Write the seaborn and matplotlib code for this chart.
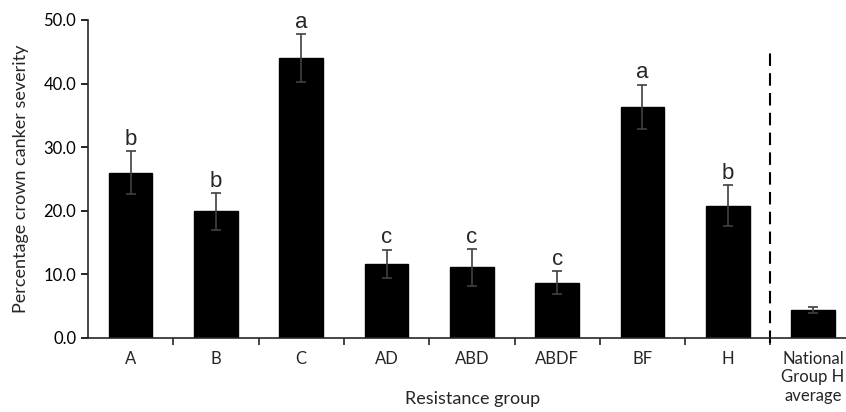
import numpy as np
import pandas as pd
import matplotlib
matplotlib.use("Agg")
import matplotlib.pyplot as plt
import seaborn as sns
from matplotlib.ticker import FormatStrFormatter, FixedLocator

# datos
grupos = ["A", "B", "C", "AD", "ABD", "ABDF", "BF", "H", "National\nGroup H\naverage"]
severidad = [26.0, 19.9, 44.0, 11.7, 11.1, 8.7, 36.3, 20.8, 4.4]
error = [3.4, 2.9, 3.8, 2.2, 2.9, 1.8, 3.5, 3.2, 0.45]
letras = ["b", "b", "a", "c", "c", "c", "a", "b", ""]

sns.set_style("ticks")
plt.rcParams["font.family"] = ["Lato", "DejaVu Sans"]

df = pd.DataFrame({"grupo": grupos, "valor": severidad})

fig = plt.figure(figsize=(8.46, 4.12), dpi=100)
ax = fig.add_axes([88 / 846, 74 / 412, 758 / 846, 318 / 412])

sns.barplot(data=df, x="grupo", y="valor", color="black", width=0.51,
            saturation=1, edgecolor="black", ax=ax)
ax.errorbar(np.arange(len(grupos)), severidad, yerr=error, fmt="none",
            ecolor="#404040", elinewidth=1.2, capsize=3.5, capthick=1.2)

# letras de significancia
for i, (v, e, l) in enumerate(zip(severidad, error, letras)):
    if l:
        ax.annotate(l, (i, v + e), xytext=(0, 1), textcoords="offset points",
                    ha="center", va="bottom", fontsize=16,
                    family=["Liberation Sans", "DejaVu Sans"])

# linea discontinua separando el promedio nacional
ax.plot([7.5, 7.5], [-0.8, 45.3], color="black", lw=1.5,
        ls=(0, (6, 3.5)), clip_on=False)

ax.set_ylim(0, 50)
ax.set_xlim(-0.5, -0.5 + 758 / 85.3)
ax.yaxis.set_major_formatter(FormatStrFormatter("%.1f"))
ax.set_yticks(np.arange(0, 51, 10))
ax.tick_params(axis="y", labelsize=12, length=5, width=1.2, colors="black")
ax.tick_params(axis="x", which="major", length=0, labelsize=12, pad=9)
ax.xaxis.set_minor_locator(FixedLocator(np.arange(0.5, 8, 1)))
ax.tick_params(axis="x", which="minor", length=5, width=1.2)

ax.set_xlabel("Resistance group", fontsize=13)
ax.xaxis.set_label_coords(0.507, -0.168)
ax.set_ylabel("Percentage crown canker severity", fontsize=13)
ax.yaxis.set_label_coords(-0.078, 0.5)
sns.despine(ax=ax)
for s in ["left", "bottom"]:
    ax.spines[s].set_linewidth(1.2)

fig.savefig("out.png", dpi=100)
